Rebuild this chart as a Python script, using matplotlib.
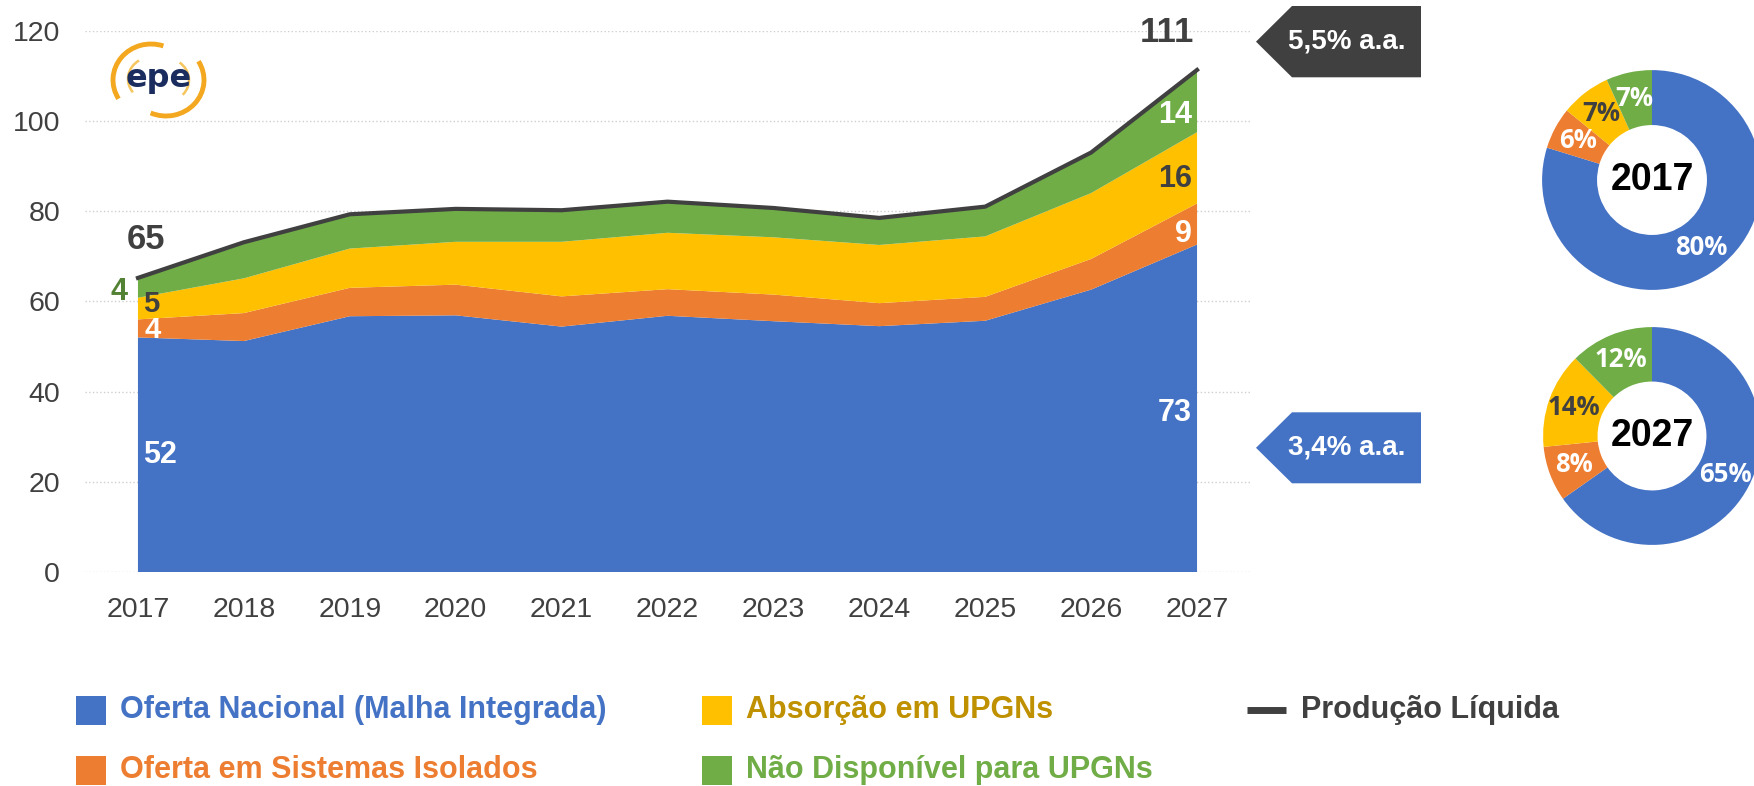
import numpy as np
import matplotlib
matplotlib.use("Agg")
import matplotlib.pyplot as plt
from matplotlib.patches import Polygon, Rectangle, Arc

plt.rcParams['font.family'] = ['Liberation Sans', 'DejaVu Sans']

# dados (milhões m3/dia)
anos = [2017, 2018, 2019, 2020, 2021, 2022, 2023, 2024, 2025, 2026, 2027]
nacional = [52.0, 51.2, 56.7, 56.9, 54.4, 56.8, 55.6, 54.5, 55.7, 62.6, 72.6]
isolados = [4.0, 6.2, 6.3, 6.8, 6.7, 5.9, 5.9, 5.1, 5.3, 6.8, 9.1]
absorcao = [4.8, 7.7, 8.7, 9.5, 12.1, 12.5, 12.7, 12.9, 13.4, 14.6, 15.8]
nao_disp = [4.4, 8.0, 7.6, 7.3, 7.0, 6.9, 6.5, 6.0, 6.6, 9.0, 13.8]

series = ['Oferta Nacional (Malha Integrada)', 'Oferta em Sistemas Isolados',
          'Absorção em UPGNs', 'Não Disponível para UPGNs']
cores = ['#4472C4', '#ED7D31', '#FFC000', '#70AD47']
cor_txt = ['#4472C4', '#ED7D31', '#BF9000', '#70AD47']
escuro = '#404040'

W, H = 1754, 786
fig = plt.figure(figsize=(W / 100, H / 100), dpi=100)

stack = np.array([nacional, isolados, absorcao, nao_disp])
topo = np.cumsum(stack, axis=0)
base = np.vstack([np.zeros(len(anos)), topo[:-1]])
total = topo[-1]

ax = fig.add_axes([85 / W, 1 - 572 / H, (1250 - 85) / W, (572 - 30.7) / H])
ax.stackplot(anos, *stack, colors=cores, linewidth=0)
ax.plot(anos, total, color=escuro, lw=3)
ax.set_xlim(2016.5, 2027.5)
ax.set_ylim(0, 120)
ax.set_yticks(range(0, 121, 20))
ax.set_xticks(anos)
ax.grid(axis='y', ls=':', color='#cfcfcf', lw=1)
ax.set_axisbelow(True)
for s in ax.spines.values():
    s.set_visible(False)
ax.tick_params(length=0, labelsize=20.5, colors=escuro, pad=18)


def meio(k, x):
    return (np.interp(x, anos, base[k]) + np.interp(x, anos, topo[k])) / 2


# rótulos 2017
ax.text(2017.05, meio(0, 2017.2), f"{nacional[0]:.0f}", color='white', fontsize=22,
        fontweight='bold', ha='left', va='center')
ax.text(2017.06, meio(1, 2017.2) - 0.4, f"{isolados[0]:.0f}", color='white', fontsize=21,
        fontweight='bold', ha='left', va='center')
ax.text(2017.05, meio(2, 2017.2) + 0.4, f"{absorcao[0]:.0f}", color=escuro, fontsize=21,
        fontweight='bold', ha='left', va='center')
ax.text(2016.9, meio(3, 2017) - 1, f"{nao_disp[0]:.0f}", color='#548235', fontsize=22,
        fontweight='bold', ha='right', va='center')
ax.text(2017.08, total[0] + 8.6, f"{total[0]:.0f}", color=escuro, fontsize=25,
        fontweight='bold', ha='center', va='center')

# rótulos 2027
ax.text(2026.95, meio(0, 2026.8), f"{nacional[-1]:.0f}", color='white', fontsize=22,
        fontweight='bold', ha='right', va='center')
ax.text(2026.95, meio(1, 2026.8), f"{isolados[-1]:.0f}", color='white', fontsize=22,
        fontweight='bold', ha='right', va='center')
ax.text(2026.95, meio(2, 2026.8), f"{absorcao[-1]:.0f}", color=escuro, fontsize=22,
        fontweight='bold', ha='right', va='center')
ax.text(2026.95, meio(3, 2026.8), f"{nao_disp[-1]:.0f}", color='white', fontsize=22,
        fontweight='bold', ha='right', va='center')
ax.text(2026.97, total[-1] + 8.2, f"{total[-1]:.0f}", color=escuro, fontsize=25,
        fontweight='bold', ha='right', va='center', clip_on=False)

# rosquinhas
cor_pct = ['white', 'white', escuro, 'white']
for i, (cx, cy, r) in zip([0, -1], [(1652, 180, 111), (1652, 436, 110)]):
    axp = fig.add_axes([(cx - r) / W, 1 - (cy + r) / H, 2 * r / W, 2 * r / H])
    _, _, pct = axp.pie(stack[:, i], colors=cores, startangle=90, counterclock=False,
                        wedgeprops=dict(width=0.5, linewidth=0), autopct='%1.0f%%',
                        pctdistance=0.76,
                        textprops=dict(fontsize=18.5, fontweight='bold',
                                       family=['Open Sans', 'DejaVu Sans']))
    for t, c in zip(pct, cor_pct):
        t.set_color(c)
    axp.text(0, 0, str(anos[i]), ha='center', va='center', fontsize=27,
             fontweight='bold', color='black')
    axp.set_xlim(-1.01, 1.01)
    axp.set_ylim(-1.01, 1.01)

# camada em pixels: setas, logo, legenda
ov = fig.add_axes([0, 0, 1, 1])
ov.set_xlim(0, W)
ov.set_ylim(H, 0)
ov.axis('off')

tx_total = (total[-1] / total[0]) ** (1 / 10) - 1
tx_nac = (nacional[-1] / nacional[0]) ** (1 / 10) - 1
for (y0, y1), cor, tx in [((6, 77.3), escuro, tx_total), ((412.3, 483.3), cores[0], tx_nac)]:
    ym = (y0 + y1) / 2
    ov.add_patch(Polygon([(1256, ym), (1292, y0), (1421, y0), (1421, y1), (1292, y1)],
                         closed=True, color=cor, lw=0))
    ov.text(1347, ym, f"{tx * 100:.1f}% a.a.".replace('.', ',', 1), color='white',
            fontsize=20, fontweight='bold', ha='center', va='center')

# logo epe
ov.add_patch(Arc((151, 80), 76, 72, theta1=150, theta2=290, color='#F3A81F', lw=3.5))
ov.add_patch(Arc((166, 80), 76, 72, theta1=-30, theta2=115, color='#F3A81F', lw=3.5))
ov.add_patch(Arc((152, 79), 48, 44, theta1=145, theta2=235, color='#F6C65E', lw=1.8))
ov.add_patch(Arc((165, 80), 48, 44, theta1=-50, theta2=40, color='#F6C65E', lw=1.8))
ov.text(159, 78, 'epe', color='#1B2C5E', fontsize=23, fontweight='bold',
        family='DejaVu Sans', ha='center', va='center')

# legenda
fleg = dict(fontsize=22, fontweight='bold', va='center',
            family=['Liberation Sans Narrow', 'Liberation Sans'])
pos = [(76, 710), (76, 770), (702, 710), (702, 770)]
for (x, y), nome, c, ct in zip(pos, series, cores, cor_txt):
    ov.add_patch(Rectangle((x, y - 14.5), 30, 29, color=c, lw=0))
    ov.text(x + 44, y, nome, color=ct, **fleg)
ov.plot([1247, 1286], [710, 710], color=escuro, lw=5, solid_capstyle='butt')
ov.text(1301, 710, 'Produção Líquida', color=escuro, **fleg)

fig.savefig('out.png', dpi=100)
